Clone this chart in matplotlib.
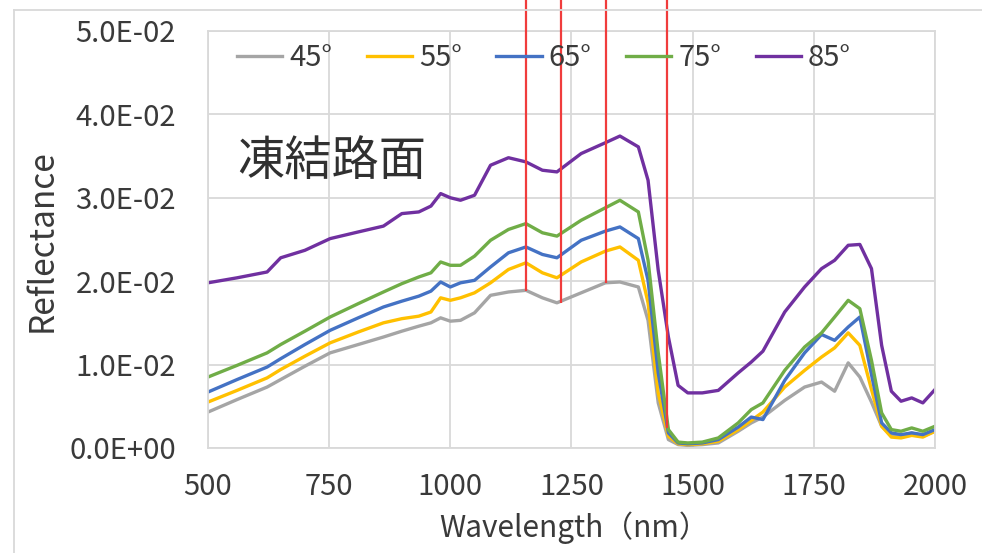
import matplotlib
matplotlib.use('Agg')
import matplotlib.pyplot as plt
from matplotlib.lines import Line2D

plt.rcParams['font.family'] = ['Noto Sans CJK JP', 'DejaVu Sans']

# wavelength grid (nm)
wavelength = [500, 560, 622, 650, 700, 752, 810, 862, 900, 935, 960, 980, 1000, 1021,
              1050, 1083, 1120, 1156, 1190, 1220, 1270, 1320, 1350, 1388, 1408, 1429,
              1450, 1470, 1490, 1520, 1553, 1594, 1621, 1645, 1690, 1731, 1766, 1793,
              1821, 1845, 1869, 1890, 1910, 1930, 1952, 1975, 2000]

r45 = [0.0043, 0.0058, 0.0073, 0.0082, 0.0098, 0.0114, 0.0124, 0.0133, 0.0140, 0.0146,
       0.0150, 0.0156, 0.0152, 0.0153, 0.0162, 0.0183, 0.0187, 0.0189, 0.0180, 0.0174,
       0.0186, 0.0198, 0.0199, 0.0193, 0.0153, 0.0054, 0.0010, 0.0004, 0.0003, 0.0004,
       0.0006, 0.0020, 0.0030, 0.0037, 0.0057, 0.0073, 0.0079, 0.0068, 0.0102, 0.0085,
       0.0055, 0.0026, 0.0015, 0.0014, 0.0018, 0.0014, 0.0020]
r55 = [0.0055, 0.0069, 0.0084, 0.0094, 0.0110, 0.0126, 0.0139, 0.0150, 0.0155, 0.0158,
       0.0163, 0.0180, 0.0177, 0.0180, 0.0186, 0.0198, 0.0214, 0.0222, 0.0210, 0.0204,
       0.0223, 0.0236, 0.0241, 0.0225, 0.0174, 0.0066, 0.0014, 0.0005, 0.0004, 0.0005,
       0.0008, 0.0022, 0.0033, 0.0043, 0.0073, 0.0093, 0.0109, 0.0120, 0.0138, 0.0123,
       0.0070, 0.0026, 0.0013, 0.0012, 0.0015, 0.0013, 0.0020]
r65 = [0.0067, 0.0082, 0.0097, 0.0107, 0.0124, 0.0141, 0.0156, 0.0169, 0.0176, 0.0182,
       0.0188, 0.0199, 0.0193, 0.0198, 0.0201, 0.0217, 0.0234, 0.0241, 0.0232, 0.0228,
       0.0249, 0.0260, 0.0265, 0.0251, 0.0201, 0.0090, 0.0018, 0.0006, 0.0005, 0.0006,
       0.0010, 0.0025, 0.0037, 0.0034, 0.0081, 0.0114, 0.0136, 0.0129, 0.0145, 0.0157,
       0.0088, 0.0030, 0.0018, 0.0016, 0.0018, 0.0016, 0.0022]
r75 = [0.0085, 0.0099, 0.0114, 0.0124, 0.0140, 0.0157, 0.0173, 0.0187, 0.0197, 0.0205,
       0.0210, 0.0223, 0.0219, 0.0219, 0.0230, 0.0249, 0.0262, 0.0269, 0.0258, 0.0254,
       0.0273, 0.0288, 0.0297, 0.0283, 0.0225, 0.0114, 0.0022, 0.0007, 0.0006, 0.0007,
       0.0012, 0.0030, 0.0046, 0.0054, 0.0093, 0.0121, 0.0138, 0.0157, 0.0177, 0.0167,
       0.0105, 0.0042, 0.0022, 0.0020, 0.0024, 0.0020, 0.0026]
r85 = [0.0198, 0.0204, 0.0211, 0.0228, 0.0237, 0.0251, 0.0259, 0.0266, 0.0281, 0.0283,
       0.0290, 0.0305, 0.0300, 0.0297, 0.0303, 0.0339, 0.0348, 0.0343, 0.0333, 0.0331,
       0.0353, 0.0366, 0.0374, 0.0361, 0.0321, 0.0213, 0.0133, 0.0075, 0.0066, 0.0066,
       0.0069, 0.0090, 0.0103, 0.0116, 0.0163, 0.0193, 0.0215, 0.0225, 0.0243, 0.0244,
       0.0215, 0.0123, 0.0068, 0.0056, 0.0060, 0.0054, 0.0070]

angles = ['45°', '55°', '65°', '75°', '85°']
colors = ['#a5a5a5', '#ffc000', '#4472c4', '#70ad47', '#7030a0']

# red marker lines: position and where they stop at the bottom
red_x = [1156, 1229, 1321, 1448]
red_bottom = [0.0188, 0.0174, 0.0198, 0.0024]

xticks = [500, 750, 1000, 1250, 1500, 1750, 2000]
yticks = [0.0, 0.01, 0.02, 0.03, 0.04, 0.05]
ytick_labels = ['0.0E+00', '1.0E-02', '2.0E-02', '3.0E-02', '4.0E-02', '5.0E-02']

txt = '#3a3a3a'

fig = plt.figure(figsize=(9.82, 5.53), dpi=100)
ax = fig.add_axes([0.2118, 0.19, 0.7403, 0.754])

for vals, lab, c in zip([r45, r55, r65, r75, r85], angles, colors):
    ax.plot(wavelength, vals, color=c, lw=2.4, label=lab, solid_joinstyle='round')

ax.vlines(red_x, red_bottom, 0.0545, color='#f03c3c', lw=1.6, clip_on=False, zorder=5)

ax.set_xlim(500, 2000)
ax.set_ylim(0, 0.05)
ax.set_xticks(xticks)
ax.set_yticks(yticks)
ax.set_yticklabels(ytick_labels)
ax.grid(True, color='#d9d9d9', lw=1.3)
ax.set_axisbelow(True)
for s in ax.spines.values():
    s.set_color('#d9d9d9')
    s.set_linewidth(1.3)
ax.tick_params(length=0, labelsize=21, colors=txt)
ax.tick_params(axis='y', pad=23)
ax.tick_params(axis='x', pad=17)

ax.set_xlabel('Wavelength（nm）', fontsize=21.5, color=txt, va='center')
ax.xaxis.set_label_coords(0.503, -0.192)
ax.set_ylabel('Reflectance', fontsize=24, color=txt, va='center')
ax.yaxis.set_label_coords(-0.228, 0.496)

ax.text(560, 0.0342, '凍結路面', fontsize=34, color='#303030', va='center', ha='left')

ax.legend(loc='center left', bbox_to_anchor=(0.04, 0.935), ncol=5, frameon=False,
          fontsize=21, handlelength=1.55, handletextpad=0.24, columnspacing=1.18,
          borderpad=0, borderaxespad=0, labelcolor=txt)

# outer chart border
fig.add_artist(Line2D([14 / 982, 14 / 982], [0, 1 - 10 / 553], color='#d9d9d9', lw=1.3))
fig.add_artist(Line2D([14 / 982, 1], [1 - 10 / 553, 1 - 10 / 553], color='#d9d9d9', lw=1.3))

fig.savefig('out.png', dpi=100)
